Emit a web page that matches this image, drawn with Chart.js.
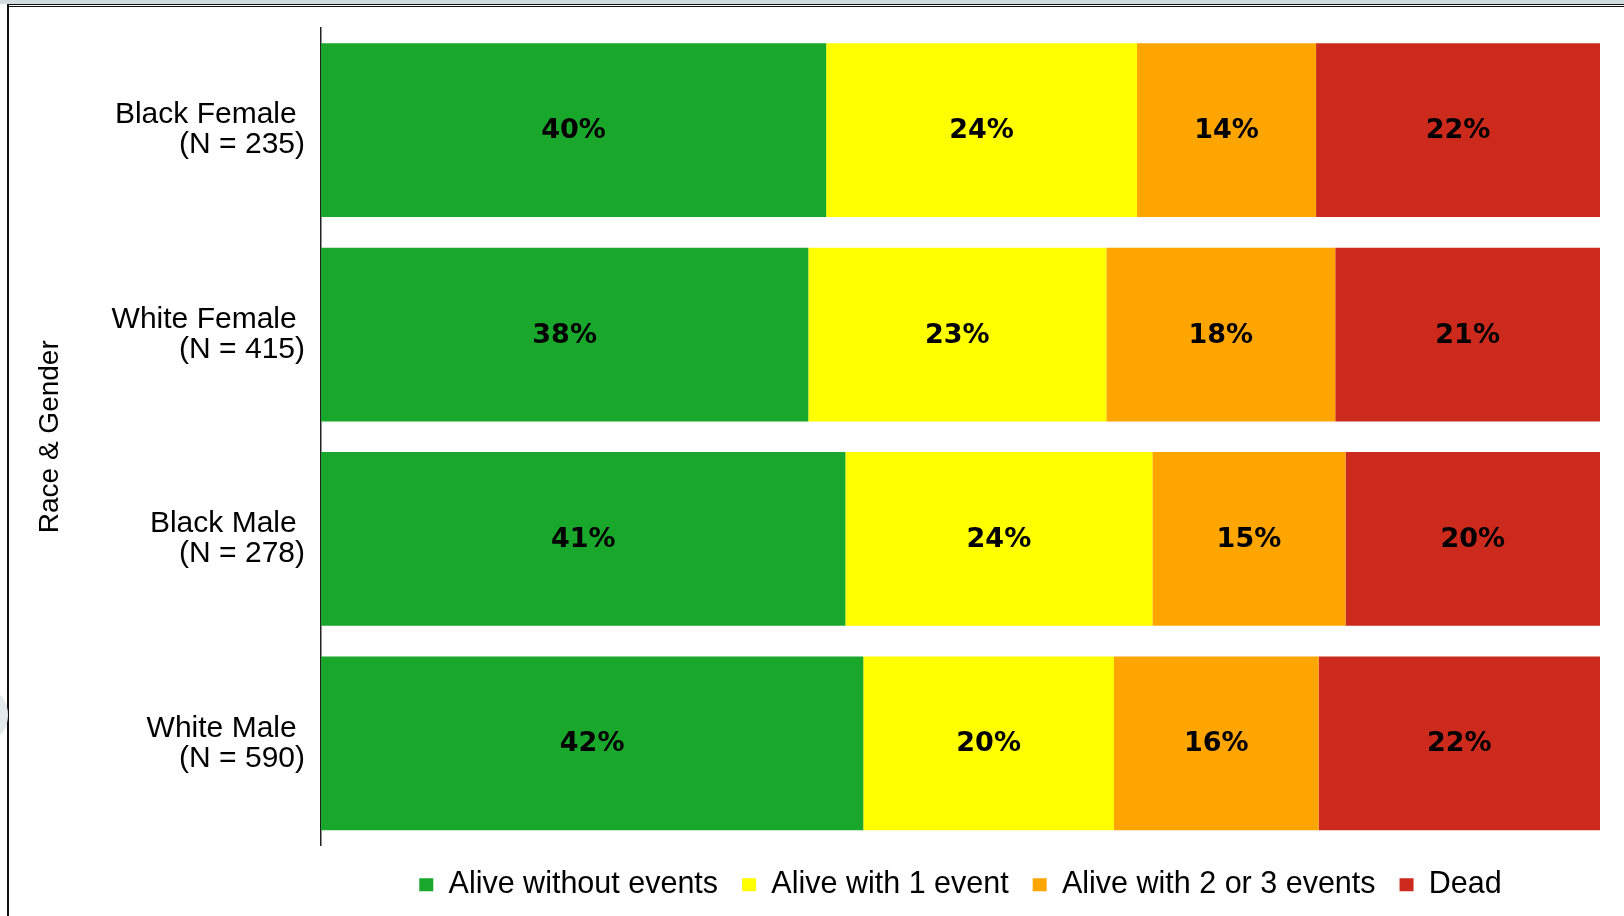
<!DOCTYPE html>
<html>
<head>
<meta charset="utf-8">
<script src="https://cdn.jsdelivr.net/npm/chart.js@4/dist/chart.umd.min.js"></script>
<style>
  html, body { margin: 0; padding: 0; background: #fff; }
  body { width: 1624px; height: 916px; position: relative; overflow: hidden; }
  .strip { position: absolute; left: 0; top: 0; width: 1624px; height: 4px; background: #d3dcdf; }
  .topline { position: absolute; left: 7px; top: 4px; width: 1617px; height: 1px; border-top: 1px solid #111; border-bottom: 1px solid #111; }
  .leftline { position: absolute; left: 7px; top: 4px; width: 2px; height: 912px; background: #111; }
  .blob { position: absolute; left: -22px; top: 692px; width: 30px; height: 46px; border-radius: 50%; background: #e4e9ea; }
  #wrap { position: absolute; left: 0; top: 0; width: 1624px; height: 916px; }
</style>
</head>
<body>
<div class="strip"></div>
<div class="topline"></div>
<div class="leftline"></div>
<div class="blob"></div>
<div id="wrap"><canvas id="chart" width="1624" height="916"></canvas></div>
<script>
// groups, top to bottom
const groups = [
  ['Black Female ', '(N = 235)'],
  ['White Female ', '(N = 415)'],
  ['Black Male ', '(N = 278)'],
  ['White Male ', '(N = 590)']
]

// share of each outcome (%) per group
const aliveNoEvents = [39.5, 38.1, 41.0, 42.4]
const aliveOneEvent = [24.3, 23.3, 24.0, 19.6]
const aliveTwoThree = [14.0, 17.9, 15.1, 16.0]
const dead = [22.2, 20.7, 19.9, 22.0]

const seriesNames = ['Alive without events', 'Alive with 1 event', 'Alive with 2 or 3 events', 'Dead']
const seriesColors = ['#19a72c', '#ffff00', '#ffa500', '#cc2a1c']

// Percent labels in the middle of each segment
const barLabels = {
  id: 'barLabels',
  afterDatasetsDraw: (chart) => {
    const ctx = chart.ctx
    ctx.save()
    ctx.font = 'bold 27px "DejaVu Sans"'
    ctx.fillStyle = '#000'
    ctx.textAlign = 'center'
    ctx.textBaseline = 'middle'
    chart.data.datasets.forEach((ds, i) => {
      chart.getDatasetMeta(i).data.forEach((bar, j) => {
        const { x, base, y } = bar.getProps(['x', 'base', 'y'], true)
        ctx.fillText(Math.round(ds.data[j]) + '%', (x + base) / 2, y + 1)
      })
    })
    ctx.restore()
  }
}

const datasets = [aliveNoEvents, aliveOneEvent, aliveTwoThree, dead].map((values, i) => ({
  label: seriesNames[i],
  data: values,
  backgroundColor: seriesColors[i],
  borderWidth: 0,
  barPercentage: 1,
  categoryPercentage: 0.85
}))

const font = '"Liberation Sans", Arial, sans-serif'

new Chart(document.getElementById('chart'), {
  type: 'bar',
  data: { labels: groups, datasets },
  plugins: [barLabels],
  options: {
    indexAxis: 'y',
    responsive: false,
    animation: false,
    layout: { padding: { left: 33, top: 28, right: 24, bottom: 6 } },
    scales: {
      x: {
        display: false,
        stacked: true,
        min: 0,
        max: 100
      },
      y: {
        stacked: true,
        grid: { display: false },
        border: { display: true, color: '#222', width: 1.5 },
        ticks: {
          color: '#000',
          padding: 8,
          font: { family: font, size: 30, lineHeight: 1.0 }
        },
        title: {
          display: true,
          text: 'Race & Gender',
          color: '#000',
          padding: 0,
          font: { family: font, size: 28 }
        },
        afterFit: (scale) => {
          scale.width = 288
          scale.paddingTop = 0
        }
      }
    },
    plugins: {
      tooltip: { enabled: false },
      legend: {
        position: 'bottom',
        fullSize: false,
        labels: {
          color: '#000',
          boxWidth: 14,
          boxHeight: 13,
          padding: 24,
          font: { family: font, size: 30.5 }
        }
      }
    }
  }
})
</script>
</body>
</html>
